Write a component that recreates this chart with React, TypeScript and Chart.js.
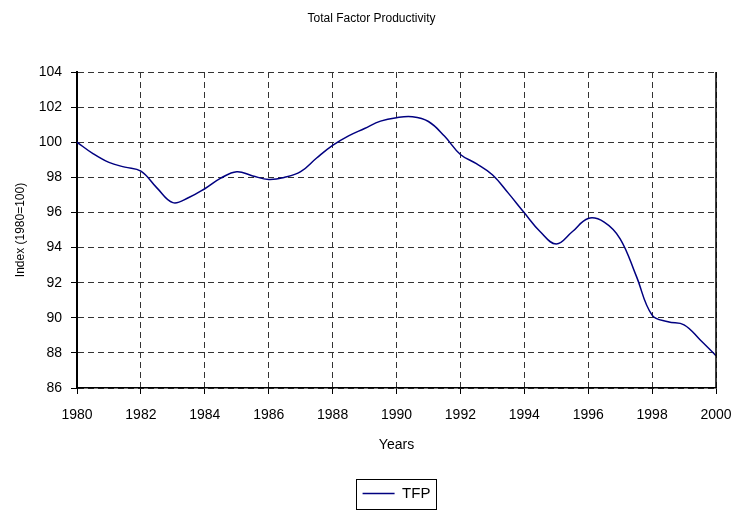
import React, { useEffect, useRef } from "react";
import { Chart, registerables } from "chart.js";

Chart.register(...registerables);

const chartTitle = "Total Factor Productivity";
const xAxisTitle = "Years";
const yAxisTitle = "Index (1980=100)";
const seriesName = "TFP";

const years = [
  1980, 1980.5, 1981, 1981.5, 1982, 1982.5, 1983, 1983.5, 1984, 1984.5,
  1985, 1985.5, 1986, 1986.5, 1987, 1987.5, 1988, 1988.5, 1989, 1989.5,
  1990, 1990.5, 1991, 1991.5, 1992, 1992.5, 1993, 1993.5, 1994, 1994.5,
  1995, 1995.5, 1996, 1996.5, 1997, 1997.5, 1998, 1998.5, 1999, 1999.5, 2000,
];
const tfp = [
  100.0, 99.35, 98.85, 98.58, 98.35, 97.4, 96.56, 96.85, 97.35, 97.95,
  98.32, 98.08, 97.88, 98.0, 98.32, 99.1, 99.82, 100.36, 100.78, 101.2,
  101.4, 101.45, 101.18, 100.35, 99.3, 98.78, 98.15, 97.1, 95.98, 94.9,
  94.2, 94.9, 95.66, 95.45, 94.5, 92.4, 90.15, 89.77, 89.6, 88.75, 87.84,
];
const xTicks = [1980, 1982, 1984, 1986, 1988, 1990, 1992, 1994, 1996, 1998, 2000];
const yTicks = [86, 88, 90, 92, 94, 96, 98, 100, 102, 104];

const FONT = "'Liberation Sans', Arial, sans-serif";

const framePlugin = {
  id: "frame",
  afterDraw(chart: any) {
    const { ctx, chartArea } = chart;
    ctx.save();
    ctx.strokeStyle = "#000";
    ctx.lineWidth = 1.5;
    ctx.setLineDash([]);
    ctx.beginPath();
    ctx.moveTo(chartArea.right, chartArea.top);
    ctx.lineTo(chartArea.right, chartArea.bottom);
    ctx.stroke();
    const boxes = chart.legend && chart.legend.legendHitBoxes;
    if (boxes && boxes.length) {
      const b = boxes[0];
      ctx.lineWidth = 1;
      ctx.strokeStyle = "#000";
      const cy = b.top + b.height / 2;
      ctx.strokeRect(Math.round(b.left - 7) + 0.5, Math.round(cy - 15) + 0.5, Math.round(b.width + 12), 30);
    }
    ctx.restore();
  },
};

export default function App() {
  const ref = useRef<HTMLCanvasElement>(null);
  useEffect(() => {
    if (!ref.current) return;
    const chart = new Chart(ref.current, {
      type: "line",
      data: {
        datasets: [
          {
            label: seriesName,
            data: years.map((x, i) => ({ x, y: tfp[i] })),
            borderColor: "#000080",
            backgroundColor: "#000080",
            borderWidth: 1.5,
            pointRadius: 0,
            tension: 0.4,
            fill: false,
          },
        ],
      },
      options: {
        animation: false,
        responsive: false,
        maintainAspectRatio: false,
        layout: { padding: { left: 8, right: 0, top: 0, bottom: 0 } },
        plugins: {
          title: {
            display: true,
            text: chartTitle,
            color: "#000",
            font: { family: FONT, size: 12, weight: "normal" },
            padding: { top: 11, bottom: 46.6 },
          },
          legend: {
            display: true,
            position: "bottom",
            fullSize: false,
            labels: {
              usePointStyle: true,
              pointStyle: "line",
              pointStyleWidth: 32,
              color: "#000",
              font: { family: FONT, size: 15 },
              padding: 8,
            },
          },
          tooltip: { enabled: false },
        },
        scales: {
          x: {
            type: "linear",
            min: 1980,
            max: 2000,
            afterBuildTicks: (scale: any) => {
              scale.ticks = xTicks.map((v) => ({ value: v }));
            },
            afterFit: (scale: any) => {
              scale.height = 90;
              scale.paddingRight = 19;
            },
            ticks: {
              color: "#000",
              font: { family: FONT, size: 14 },
              padding: 13,
              maxRotation: 0,
              callback: (v: any) => String(v),
            },
            grid: {
              color: "#333",
              lineWidth: 1,
              tickLength: 6,
              tickColor: "#000",
            },
            border: { display: true, color: "#000", width: 1.5, dash: [6, 4] },
            title: {
              display: true,
              text: xAxisTitle,
              color: "#000",
              font: { family: FONT, size: 14 },
              padding: { top: 0, bottom: 24 },
            },
          },
          y: {
            type: "linear",
            min: 86,
            max: 104,
            afterBuildTicks: (scale: any) => {
              scale.ticks = yTicks.map((v) => ({ value: v }));
            },
            afterFit: (scale: any) => {
              scale.width = 69;
            },
            ticks: {
              color: "#000",
              font: { family: FONT, size: 14 },
              padding: 9,
              callback: (v: any) => String(v),
            },
            grid: {
              color: "#333",
              lineWidth: 1,
              tickLength: 6,
              tickColor: "#000",
            },
            border: { display: true, color: "#000", width: 2, dash: [6, 4] },
            title: {
              display: true,
              text: yAxisTitle,
              color: "#000",
              font: { family: FONT, size: 12 },
              padding: { top: 5, bottom: 0 },
            },
          },
        },
      },
      plugins: [framePlugin],
    });
    return () => chart.destroy();
  }, []);
  return (
    <div style={{ position: "absolute", left: 0, top: 0, width: 735, height: 511 }}>
      <canvas ref={ref} width={735} height={511} style={{ width: 735, height: 511, display: "block" }} />
    </div>
  );
}
